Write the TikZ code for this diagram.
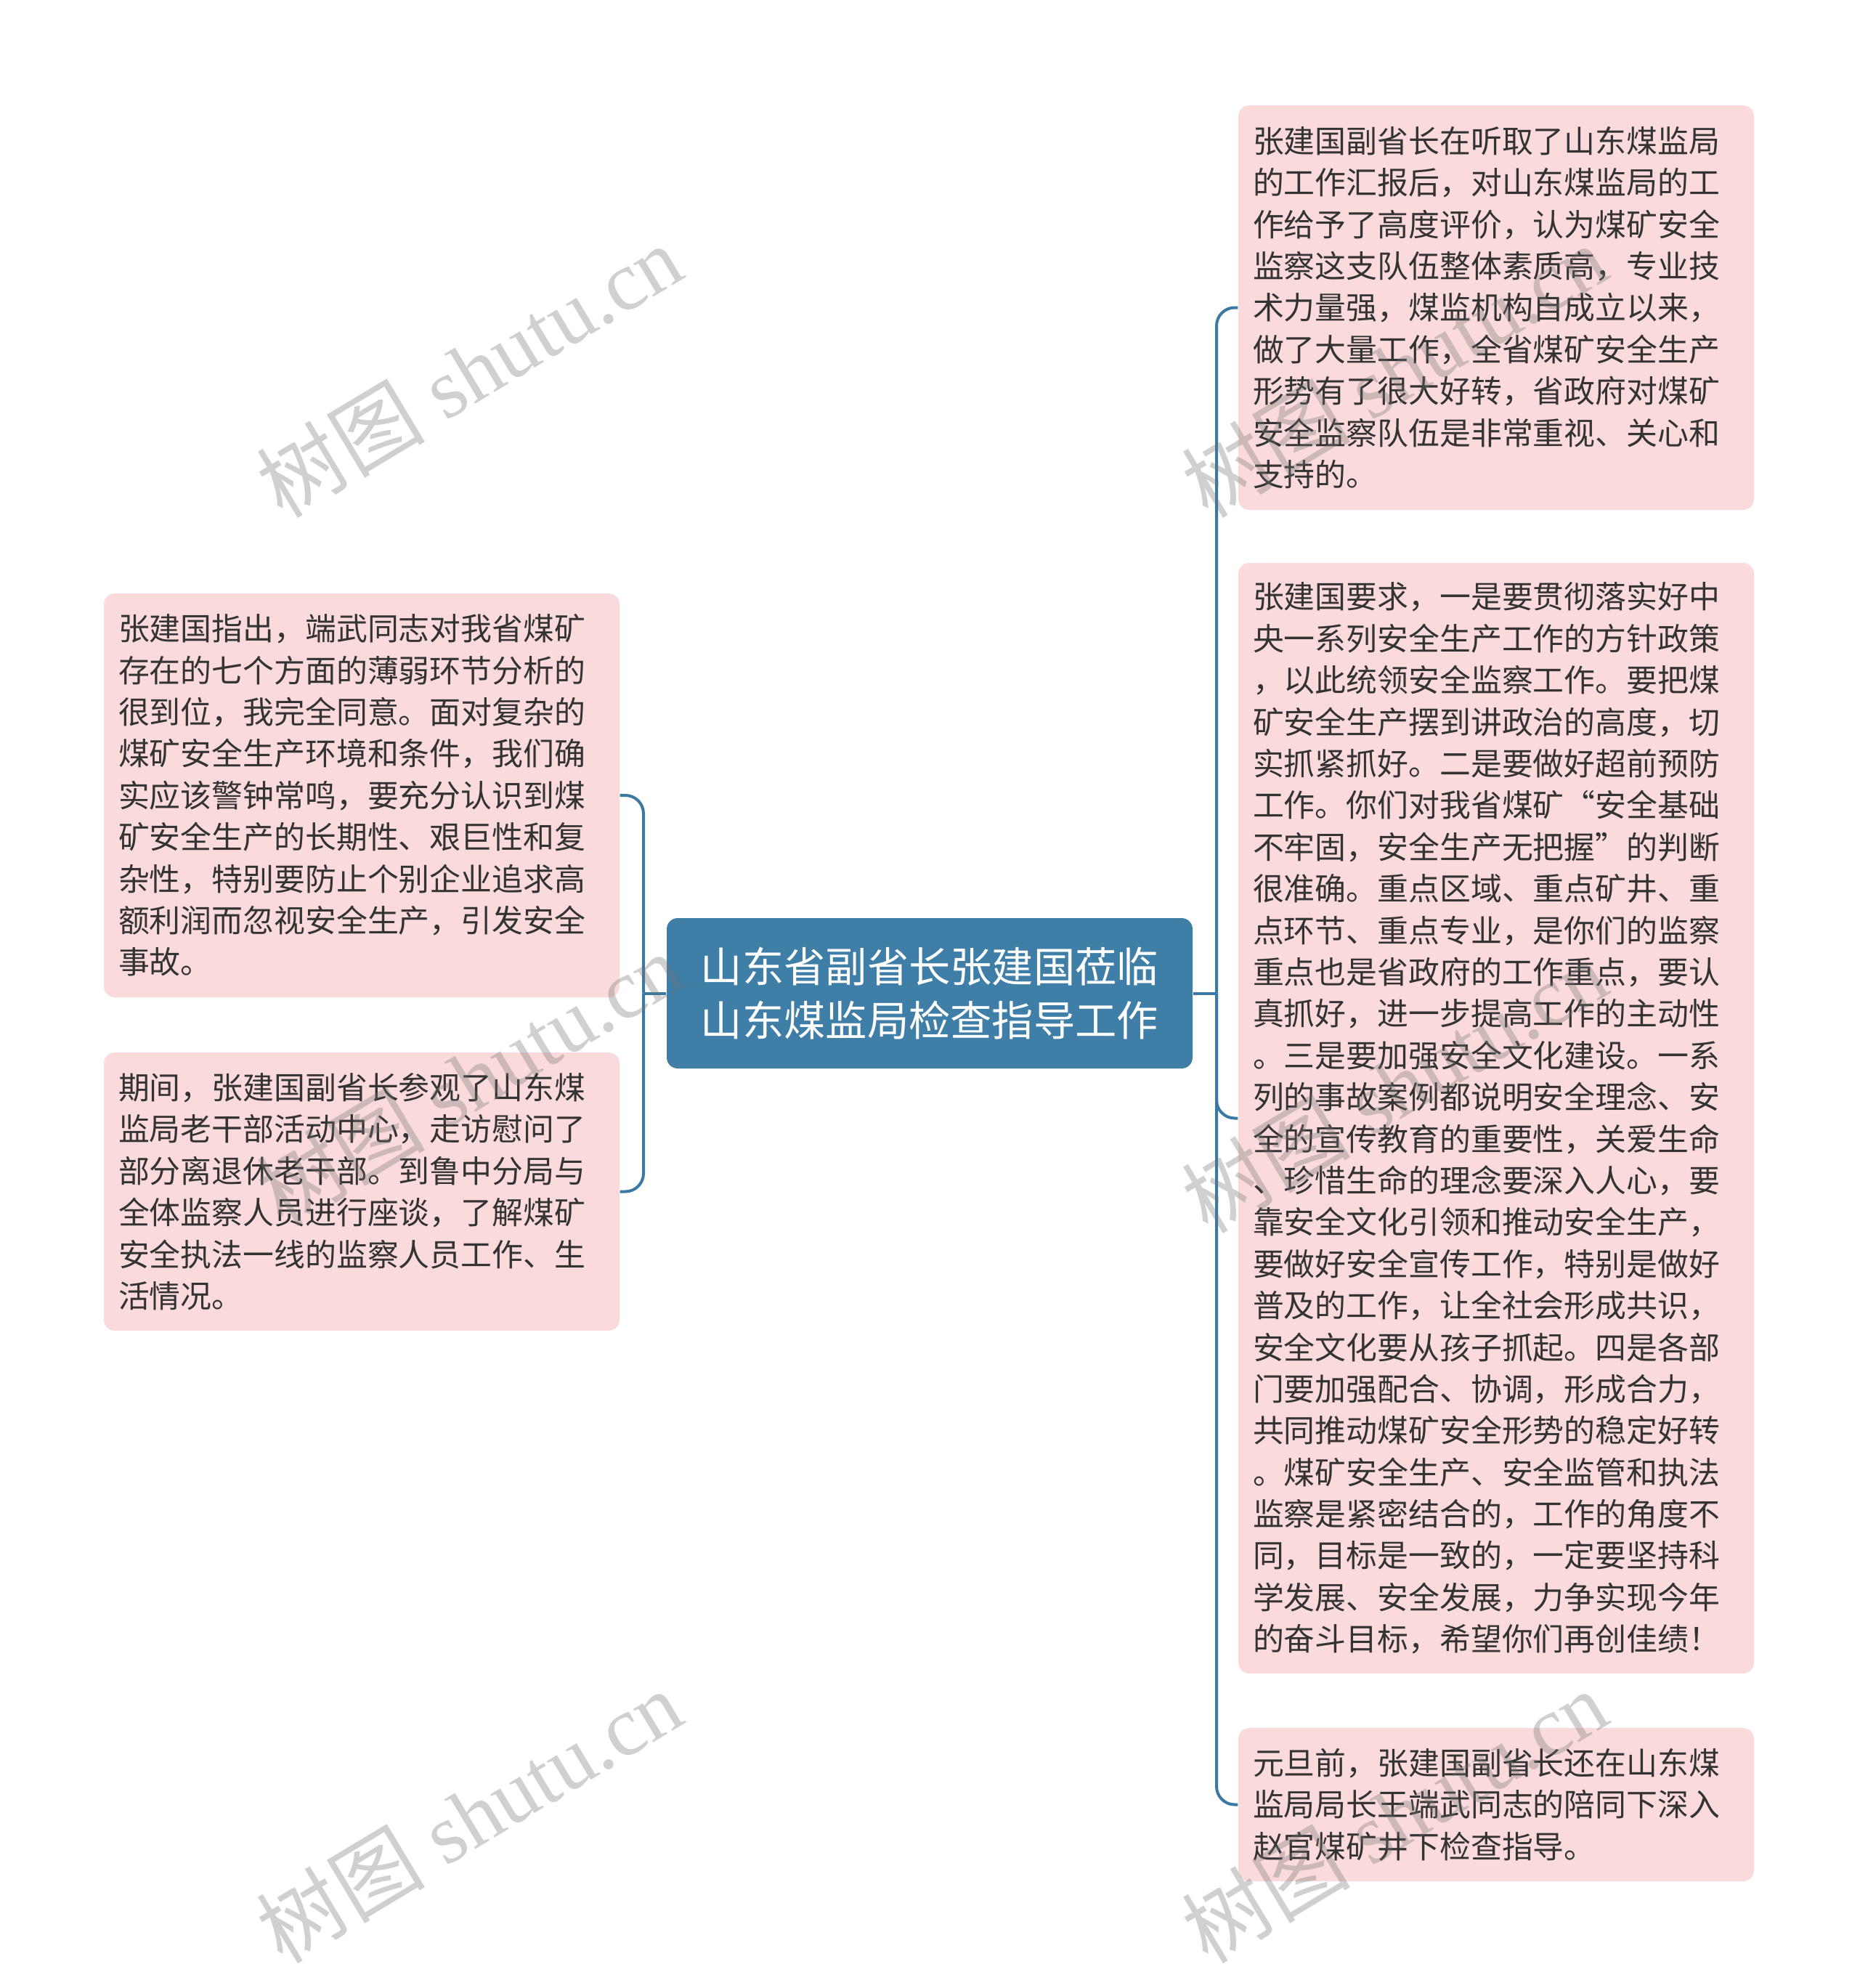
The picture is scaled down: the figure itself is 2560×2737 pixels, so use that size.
\documentclass[tikz,border=0pt]{standalone}
\usepackage{fontspec}
\setmainfont{Noto Sans CJK SC}
\newfontfamily\wmlatin{Liberation Serif}
\newfontfamily\wmcjk{Noto Sans CJK SC}
\definecolor{boxpink}{HTML}{FADADB}
\definecolor{mainblue}{HTML}{3F7EA6}
\definecolor{lineblue}{HTML}{3B78A2}
\definecolor{txt}{HTML}{333333}
\tikzset{
  leaf/.style={rectangle, rounded corners=1.5mm, fill=boxpink, draw=none,
    minimum width=71mm, text width=67mm, align=left, text=txt, inner sep=0pt,
    font=\fontsize{12.2pt}{16.33pt}\selectfont},
  root/.style={rectangle, rounded corners=1.5mm, fill=mainblue, draw=none,
    minimum width=72.4mm, minimum height=20.7mm, align=center, text=white, inner sep=0pt,
    font=\fontsize{16.3pt}{21.3pt}\selectfont},
  conn/.style={draw=lineblue, line width=0.4mm, rounded corners=2.5mm},
  wmark/.style={rotate=31, text=black!55, text opacity=0.33, inner sep=0pt}
}
\begin{document}
\begin{tikzpicture}[x=0.1mm,y=-0.1mm]
\useasboundingbox (0,0) rectangle (2560,2737);
\fill[white] (0,0) rectangle (2560,2737);

\node[root] (c) at (1280,1367.5) {山东省副省长张建国莅临\\山东煤监局检查指导工作};

\node[leaf, minimum height=55.6mm] (l1) at (498,1095) {张建国指出，端武同志对我省煤矿\\存在的七个方面的薄弱环节分析的\\很到位，我完全同意。面对复杂的\\煤矿安全生产环境和条件，我们确\\实应该警钟常鸣，要充分认识到煤\\矿安全生产的长期性、艰巨性和复\\杂性，特别要防止个别企业追求高\\额利润而忽视安全生产，引发安全\\事故。};

\node[leaf, minimum height=38.3mm] (l2) at (498,1640.5) {期间，张建国副省长参观了山东煤\\监局老干部活动中心，走访慰问了\\部分离退休老干部。到鲁中分局与\\全体监察人员进行座谈，了解煤矿\\安全执法一线的监察人员工作、生\\活情况。};

\node[leaf, minimum height=55.7mm] (r1) at (2060,423.5) {张建国副省长在听取了山东煤监局\\的工作汇报后，对山东煤监局的工\\作给予了高度评价，认为煤矿安全\\监察这支队伍整体素质高，专业技\\术力量强，煤监机构自成立以来，\\做了大量工作，全省煤矿安全生产\\形势有了很大好转，省政府对煤矿\\安全监察队伍是非常重视、关心和\\支持的。};

\node[leaf, minimum height=152.9mm] (r2) at (2060,1539.5) {张建国要求，一是要贯彻落实好中\\央一系列安全生产工作的方针政策\\，以此统领安全监察工作。要把煤\\矿安全生产摆到讲政治的高度，切\\实抓紧抓好。二是要做好超前预防\\工作。你们对我省煤矿“安全基础\\不牢固，安全生产无把握”的判断\\很准确。重点区域、重点矿井、重\\点环节、重点专业，是你们的监察\\重点也是省政府的工作重点，要认\\真抓好，进一步提高工作的主动性\\。三是要加强安全文化建设。一系\\列的事故案例都说明安全理念、安\\全的宣传教育的重要性，关爱生命\\、珍惜生命的理念要深入人心，要\\靠安全文化引领和推动安全生产，\\要做好安全宣传工作，特别是做好\\普及的工作，让全社会形成共识，\\安全文化要从孩子抓起。四是各部\\门要加强配合、协调，形成合力，\\共同推动煤矿安全形势的稳定好转\\。煤矿安全生产、安全监管和执法\\监察是紧密结合的，工作的角度不\\同，目标是一致的，一定要坚持科\\学发展、安全发展，力争实现今年\\的奋斗目标，希望你们再创佳绩！};

\node[leaf, minimum height=21.1mm] (r3) at (2060,2484.5) {元旦前，张建国副省长还在山东煤\\监局局长王端武同志的陪同下深入\\赵官煤矿井下检查指导。};

\coordinate (rj) at (1675,1367.5);
\coordinate (lj) at (886,1367.5);

\draw[conn] (c.east) -- (rj);
\draw[conn] (rj) |- (r1.west);
\draw[conn] (rj) |- (r2.west);
\draw[conn] (rj) |- (r3.west);
\draw[conn] (c.west) -- (lj);
\draw[conn] (lj) |- (l1.east);
\draw[conn] (lj) |- (l2.east);

\foreach \n/\px/\py in {1/646/510, 2/646/1485, 3/646/2500, 4/1920/510, 5/1920/1495, 6/1920/2500}{
  \node[wmark] (wm\n) at (\px,\py) {\fontsize{33pt}{38pt}\wmcjk 树图\wmlatin\ shutu.cn};
}
\end{tikzpicture}
\end{document}
